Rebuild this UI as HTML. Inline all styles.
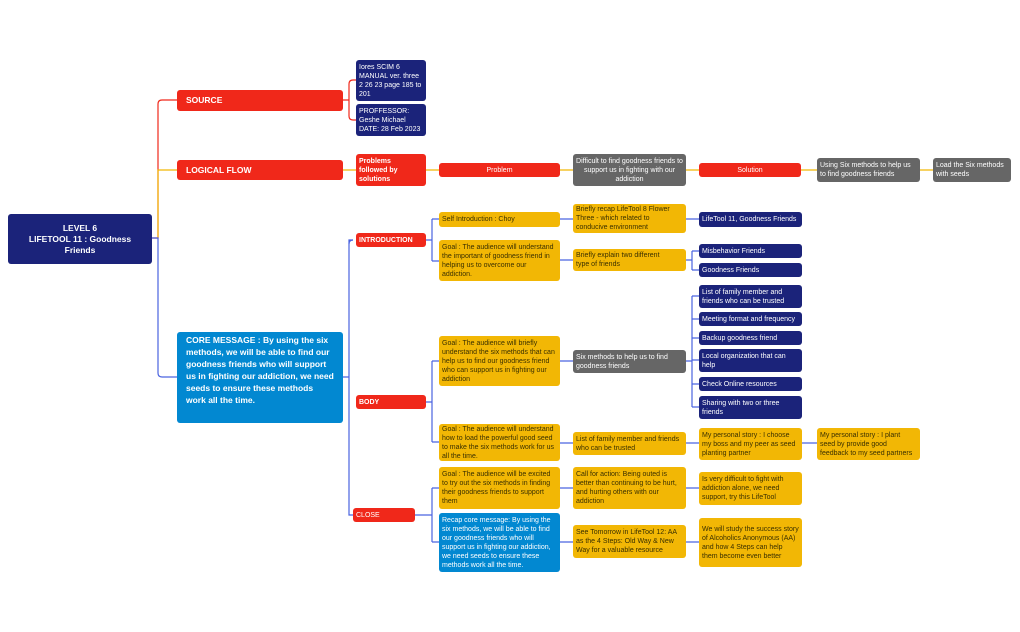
<!DOCTYPE html>
<html><head><meta charset="utf-8"><style>
body{margin:0;width:1020px;height:632px;background:#fff;position:relative;overflow:hidden;font-family:"Liberation Sans",sans-serif}
.n{position:absolute;box-sizing:border-box;border-radius:3px;padding:1px 3px;font-size:7px;line-height:9px;display:flex;align-items:center}
.r{background:#f0281a;color:#fff}
.y{background:#f2b705;color:#3a3000}
.d{background:#1b237a;color:#fff}
.g{background:#666;color:#fff}
.b{background:#0288d1;color:#fff}
.c{justify-content:center;text-align:center}
.bo{font-weight:bold}
svg{position:absolute;left:0;top:0}
</style></head><body>
<svg width="1020" height="632" fill="none" stroke-width="1.2">
<g stroke="#f0281a">
<path d="M152 238H158V104Q158 100 162 100H177"/>
<path d="M343 100H349M349 100V84Q349 80 353 80H356M349 100V116Q349 120 353 120H356"/>
</g>
<g stroke="#f2b705">
<path d="M158 238V170H177"/>
<path d="M343 170H356M426 170H439M560 170H573M686 170H699M801 170H817M920 170H933"/>
</g>
<g stroke="#4a63e0">
<path d="M152 238H158V373Q158 377 162 377H177"/>
<path d="M343 377H349M353 240H349V515H353"/>
<path d="M349 244Q349 240 353 240"/>
<path d="M426 240H432M432 219V261M432 219H439M432 261H439"/>
<path d="M560 219H573M686 219H699M560 260H573M686 260H692M692 251V270M692 251H699M692 270H699"/>
<path d="M426 402H432M432 361V442M432 361H439M432 442H439"/>
<path d="M560 361H573M686 361H692M692 296V407M692 296H699M692 319H699M692 338H699M692 360H699M692 384H699M692 407H699"/>
<path d="M560 443H573M686 443H699M802 443H817"/>
<path d="M415 515H432M432 488V542M432 488H439M432 542H439"/>
<path d="M560 488H573M686 488H699M560 542H573M686 542H699"/>
</g>
</svg>
<div class="n d c bo" style="left:8px;top:214px;width:144px;height:50px;font-size:8.5px;line-height:11px">LEVEL 6<br>LIFETOOL 11 : Goodness<br>Friends</div>
<div class="n r bo" style="left:177px;top:90px;width:166px;height:21px;font-size:8.5px;padding-left:9px">SOURCE</div>
<div class="n r bo" style="left:177px;top:160px;width:166px;height:20px;font-size:8.5px;padding-left:9px">LOGICAL FLOW</div>
<div class="n b bo" style="left:177px;top:332px;width:166px;height:91px;font-size:8.5px;line-height:12px;padding:2px 9px;align-items:flex-start">CORE MESSAGE : By using the six methods, we will be able to find our goodness friends who will support us in fighting our addiction, we need seeds to ensure these methods work all the time.</div>
<div class="n d" style="left:356px;top:60px;width:70px;height:41px">Iores SCIM 6 MANUAL ver. three 2 26 23 page 185 to 201</div>
<div class="n d" style="left:356px;top:104px;width:70px;height:32px">PROFFESSOR: Geshe Michael DATE: 28 Feb 2023</div>
<div class="n r bo" style="left:356px;top:154px;width:70px;height:32px">Problems<br>followed by<br>solutions</div>
<div class="n r c" style="left:439px;top:163px;width:121px;height:14px">Problem</div>
<div class="n g c" style="left:573px;top:154px;width:113px;height:32px">Difficult to find goodness friends to support us in fighting with our addiction</div>
<div class="n r c" style="left:699px;top:163px;width:102px;height:14px">Solution</div>
<div class="n g" style="left:817px;top:158px;width:103px;height:24px">Using Six methods to help us to find goodness friends</div>
<div class="n g" style="left:933px;top:158px;width:78px;height:24px">Load the Six methods with seeds</div>
<div class="n r bo" style="left:356px;top:233px;width:70px;height:14px">INTRODUCTION</div>
<div class="n r bo" style="left:356px;top:395px;width:70px;height:14px">BODY</div>
<div class="n r" style="left:353px;top:508px;width:62px;height:14px">CLOSE</div>
<div class="n y" style="left:439px;top:212px;width:121px;height:15px">Self Introduction : Choy</div>
<div class="n y" style="left:439px;top:240px;width:121px;height:41px">Goal : The audience will understand the important of goodness friend in helping us to overcome our addiction.</div>
<div class="n y" style="left:573px;top:204px;width:113px;height:29px">Briefly recap LifeTool 8 Flower<br>Three - which related to<br>conducive environment</div>
<div class="n d" style="left:699px;top:212px;width:103px;height:15px">LifeTool 11, Goodness Friends</div>
<div class="n y" style="left:573px;top:249px;width:113px;height:22px">Briefly explain two different<br>type of friends</div>
<div class="n d" style="left:699px;top:244px;width:103px;height:14px">Misbehavior Friends</div>
<div class="n d" style="left:699px;top:263px;width:103px;height:14px">Goodness Friends</div>
<div class="n y" style="left:439px;top:336px;width:121px;height:50px">Goal : The audience will briefly understand the six methods that can help us to find our goodness friend who can support us in fighting our addiction</div>
<div class="n g" style="left:573px;top:350px;width:113px;height:23px">Six methods to help us to find goodness friends</div>
<div class="n d" style="left:699px;top:285px;width:103px;height:23px">List of family member and friends who can be trusted</div>
<div class="n d" style="left:699px;top:312px;width:103px;height:14px">Meeting format and frequency</div>
<div class="n d" style="left:699px;top:331px;width:103px;height:14px">Backup goodness friend</div>
<div class="n d" style="left:699px;top:349px;width:103px;height:23px">Local organization that can help</div>
<div class="n d" style="left:699px;top:377px;width:103px;height:14px">Check Online resources</div>
<div class="n d" style="left:699px;top:396px;width:103px;height:23px">Sharing with two or three friends</div>
<div class="n y" style="left:439px;top:424px;width:121px;height:37px">Goal : The audience will understand how to load the powerful good seed to make the six methods work for us all the time.</div>
<div class="n y" style="left:573px;top:432px;width:113px;height:23px">List of family member and friends who can be trusted</div>
<div class="n y" style="left:699px;top:428px;width:103px;height:32px">My personal story : I choose my boss and my peer as seed planting partner</div>
<div class="n y" style="left:817px;top:428px;width:103px;height:32px">My personal story : I plant seed by provide good feedback to my seed partners</div>
<div class="n y" style="left:439px;top:467px;width:121px;height:42px">Goal : The audience will be excited to try out the six methods in finding their goodness friends to support them</div>
<div class="n y" style="left:573px;top:467px;width:113px;height:42px">Call for action: Being outed is better than continuing to be hurt, and hurting others with our addiction</div>
<div class="n y" style="left:699px;top:472px;width:103px;height:33px">Is very difficult to fight with addiction alone, we need support, try this LifeTool</div>
<div class="n b" style="left:439px;top:513px;width:121px;height:59px">Recap core message: By using the six methods, we will be able to find our goodness friends who will support us in fighting our addiction, we need seeds to ensure these methods work all the time.</div>
<div class="n y" style="left:573px;top:525px;width:113px;height:33px">See Tomorrow in LifeTool 12: AA as the 4 Steps: Old Way &amp; New Way for a valuable resource</div>
<div class="n y" style="left:699px;top:518px;width:103px;height:49px">We will study the success story of Alcoholics Anonymous (AA) and how 4 Steps can help them become even better</div>
</body></html>
